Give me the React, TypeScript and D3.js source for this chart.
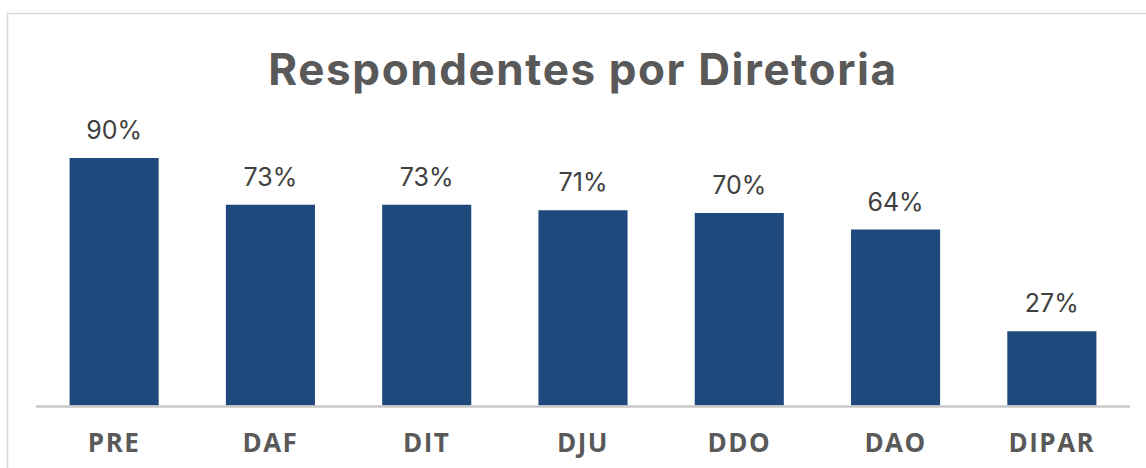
import React from "react";
import * as d3 from "d3";

const categories = ["PRE", "DAF", "DIT", "DJU", "DDO", "DAO", "DIPAR"];
const values = [90, 73, 73, 71, 70, 64, 27];
const title = "Respondentes por Diretoria";

const W = 1146;
const H = 468;

export default function App() {
  const x = d3.scaleBand<string>().domain(categories).range([36, 1130]).paddingInner(0.43).paddingOuter(0.215);
  const y = d3.scaleLinear().domain([0, 100]).range([405.5, 130.5]);
  return (
    <svg width={W} height={H} style={{ position: "absolute", left: 0, top: 0, background: "#fff" }}>
      <rect x={0} y={0} width={W} height={H} fill="#fff" />
      <rect x={7.5} y={13.5} width={W + 10} height={H + 10} fill="#fff" stroke="#d9d9d9" strokeWidth={1.5} />
      <text x={583} y={85} textAnchor="middle" fontFamily="Inter, 'Open Sans', sans-serif" fontWeight={700} fontSize={44} letterSpacing={1.6} fill="#595959">
        {title}
      </text>
      {categories.map((c, i) => (
        <g key={c}>
          <rect x={x(c)} y={y(values[i])} width={x.bandwidth()} height={y(0) - y(values[i])} fill="#1f497d" />
          <text x={(x(c) ?? 0) + x.bandwidth() / 2} y={y(values[i]) - 19} textAnchor="middle" fontFamily="Inter, 'Open Sans', sans-serif" fontSize={25} fill="#404040">
            {values[i]}%
          </text>
          <text x={(x(c) ?? 0) + x.bandwidth() / 2} y={452} textAnchor="middle" fontFamily="'Open Sans', sans-serif" fontWeight={700} fontSize={26} letterSpacing={1.5} fill="#595959">
            {c}
          </text>
        </g>
      ))}
      <line x1={36} x2={1130} y1={406.5} y2={406.5} stroke="#c8c8c8" strokeWidth={2.5} />
    </svg>
  );
}
